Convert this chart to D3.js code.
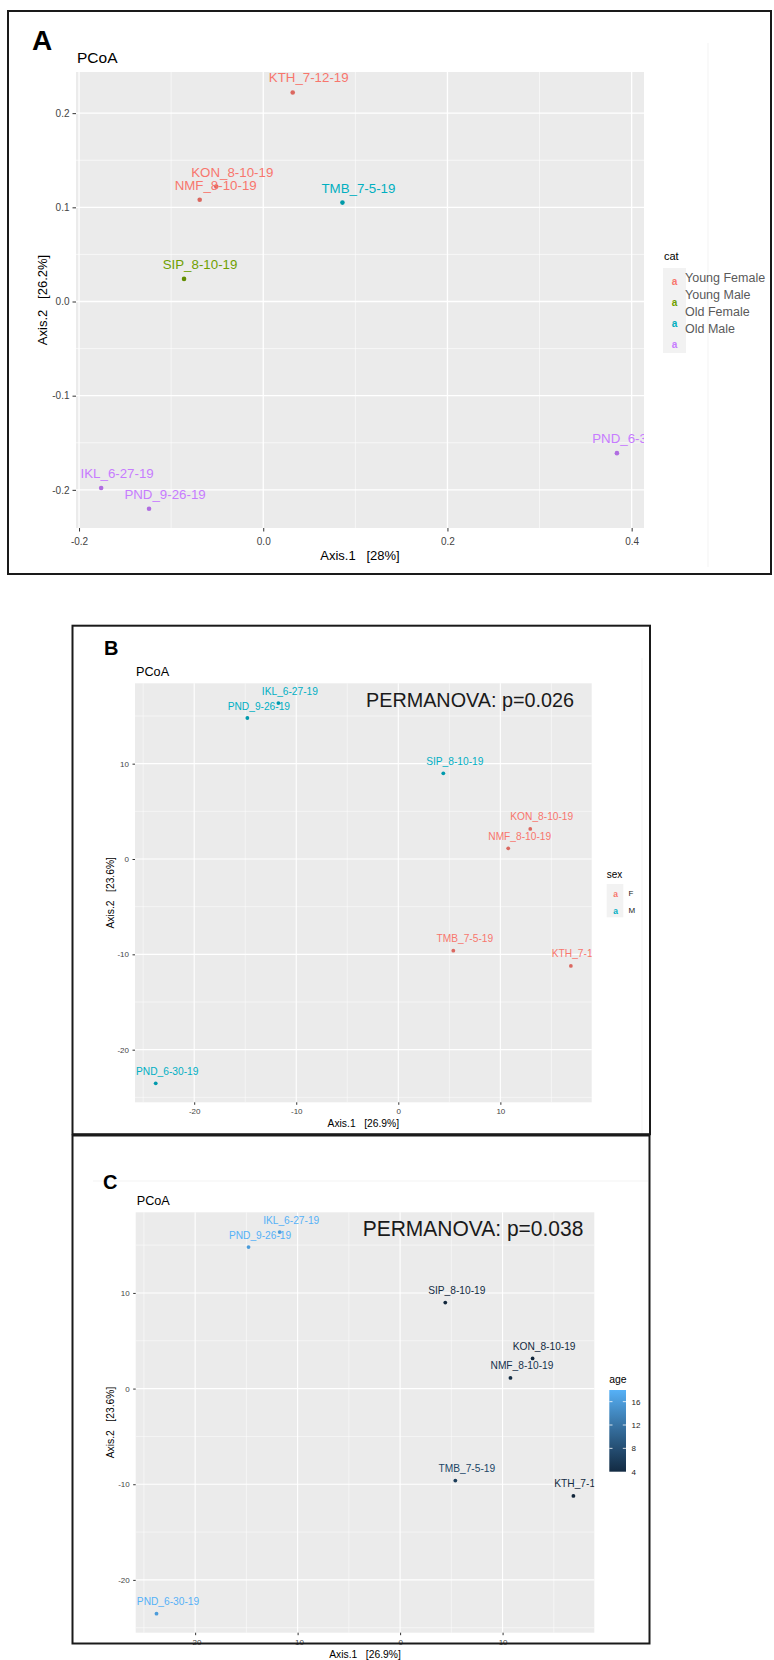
<!DOCTYPE html>
<html>
<head>
<meta charset="utf-8">
<script src="https://cdn.jsdelivr.net/npm/d3@7"></script>
<style>
body{margin:0;background:#fff}
text{font-family:"Liberation Sans",Arial,sans-serif}
</style>
</head>
<body>
<script>
// ---- panel A : PCoA coloured by cat ----
var samplesA = ["KTH_7-12-19","KON_8-10-19","NMF_8-10-19","TMB_7-5-19","SIP_8-10-19","IKL_6-27-19","PND_9-26-19","PND_6-30-19"];
var axis1A = [0.032,-0.051,-0.069,0.086,-0.086,-0.176,-0.124,0.384];
var axis2A = [0.222,0.122,0.108,0.105,0.024,-0.198,-0.220,-0.161];
var catA = ["Young Female","Young Female","Young Female","Old Female","Young Male","Old Male","Old Male","Old Male"];
var catLevels = ["Young Female","Young Male","Old Female","Old Male"];
var catColors = ["#F8766D","#6FA000","#00AFC0","#C77CFF"];
var xTicksA = [-0.2,0,0.2,0.4], xMinorA = [-0.1,0.1,0.3];
var yTicksA = [-0.2,-0.1,0,0.1,0.2], yMinorA = [-0.15,-0.05,0.05,0.15];

// ---- panels B and C : same ordination, by sex and by age ----
var samplesB = ["IKL_6-27-19","PND_9-26-19","SIP_8-10-19","KON_8-10-19","NMF_8-10-19","TMB_7-5-19","KTH_7-12-19","PND_6-30-19"];
var axis1B = [-11.75,-14.79,4.41,12.93,10.77,5.39,16.91,-23.77];
var axis2B = [16.36,14.79,8.99,3.15,1.12,-9.62,-11.22,-23.53];
var sexB = ["M","M","M","F","F","F","F","M"];
var sexLevels = ["F","M"];
var sexColors = ["#F8766D","#00AFC4"];
var ageB = [18,18,4,4,5,7,4,18];
var ageTicks = [4,8,12,16];
var ageColors = ["#132B43","#56B1F7"];
var ticksB = [-20,-10,0,10], minorB = [-25,-15,-5,5,15];

var svg = d3.select("body").append("svg")
  .attr("width", 774)
  .attr("height", 1660);

var catColor = d3.scaleOrdinal().domain(catLevels).range(catColors);
var sexColor = d3.scaleOrdinal().domain(sexLevels).range(sexColors);
var ageColor = d3.scaleLinear().domain(d3.extent(ageB)).range(ageColors).interpolate(d3.interpolateLab);

function panel(c) {
  var g = svg.append("g");
  var x = d3.scaleLinear().domain(c.xDom).range([c.l, c.r]);
  var y = d3.scaleLinear().domain(c.yDom).range([c.b, c.t]);

  g.append("rect")
    .attr("x", c.l).attr("y", c.t)
    .attr("width", c.r - c.l).attr("height", c.b - c.t)
    .attr("fill", "#EBEBEB");

  // grid lines, minor first
  g.selectAll(".vmin").data(c.xMinor).enter().append("line")
    .attr("x1", d => x(d)).attr("x2", d => x(d)).attr("y1", c.t).attr("y2", c.b)
    .attr("stroke", "#fff").attr("stroke-width", c.minW);
  g.selectAll(".hmin").data(c.yMinor).enter().append("line")
    .attr("y1", d => y(d)).attr("y2", d => y(d)).attr("x1", c.l).attr("x2", c.r)
    .attr("stroke", "#fff").attr("stroke-width", c.minW);
  g.selectAll(".vmaj").data(c.xTicks).enter().append("line")
    .attr("x1", d => x(d)).attr("x2", d => x(d)).attr("y1", c.t).attr("y2", c.b)
    .attr("stroke", "#fff").attr("stroke-width", c.majW);
  g.selectAll(".hmaj").data(c.yTicks).enter().append("line")
    .attr("y1", d => y(d)).attr("y2", d => y(d)).attr("x1", c.l).attr("x2", c.r)
    .attr("stroke", "#fff").attr("stroke-width", c.majW);

  // axes
  var xa = d3.axisBottom(x).tickValues(c.xTicks).tickFormat(c.fmt)
    .tickSize(c.tick).tickPadding(c.xPad);
  var gx = g.append("g").attr("transform", "translate(0," + c.b + ")").call(xa);
  var ya = d3.axisLeft(y).tickValues(c.yTicks).tickFormat(c.fmt)
    .tickSize(c.tick).tickPadding(c.yPad);
  var gy = g.append("g").attr("transform", "translate(" + c.l + ",0)").call(ya);
  [gx, gy].forEach(function(a) {
    a.select(".domain").remove();
    a.attr("font-size", c.tickFs).attr("font-family", "Liberation Sans, Arial, sans-serif");
    a.selectAll("line").attr("stroke", "#333");
    a.selectAll("text").attr("fill", "#444");
  });

  // axis titles
  g.append("text")
    .attr("x", (c.l + c.r) / 2).attr("y", c.xTitleY)
    .attr("text-anchor", "middle")
    .attr("font-size", c.titleFs)
    .style("white-space", "pre")
    .text(c.xTitle);
  g.append("text")
    .attr("transform", "translate(" + c.yTitleX + "," + ((c.t + c.b) / 2) + ") rotate(-90)")
    .attr("text-anchor", "middle")
    .attr("font-size", c.titleFs)
    .style("white-space", "pre")
    .text(c.yTitle);

  // PCoA title
  g.append("text")
    .attr("x", c.l + 1).attr("y", c.pcoaY)
    .attr("font-size", c.pcoaFs)
    .text("PCoA");

  // points and labels, clipped to the panel like ggplot
  svg.append("clipPath").attr("id", "clip" + c.name)
    .append("rect")
    .attr("x", c.l).attr("y", c.t)
    .attr("width", c.r - c.l).attr("height", c.b - c.t);
  var pts = g.append("g").attr("clip-path", "url(#clip" + c.name + ")");

  pts.selectAll("circle").data(c.data).enter().append("circle")
    .attr("cx", d => x(d.a1))
    .attr("cy", d => y(d.a2))
    .attr("r", c.r0)
    .attr("fill", d => d3.color(d.col).darker(0.35));

  pts.selectAll(".lab").data(c.data).enter().append("text")
    .attr("x", d => x(d.a1) + c.dx)
    .attr("y", d => y(d.a2) + c.dy)
    .attr("text-anchor", "middle")
    .attr("font-size", c.labFs)
    .attr("fill", d => d.col)
    .text(d => d.name);

  return g;
}

// faint artefacts from the pasted figure
svg.append("line").attr("x1", 708).attr("x2", 708).attr("y1", 43).attr("y2", 567)
  .attr("stroke", "#f3f3f3").attr("stroke-width", 1);
svg.append("line").attr("x1", 642).attr("x2", 642).attr("y1", 658).attr("y2", 1133)
  .attr("stroke", "#f3f3f3").attr("stroke-width", 1);
svg.append("line").attr("x1", 93).attr("x2", 648).attr("y1", 1181).attr("y2", 1181)
  .attr("stroke", "#f3f3f3").attr("stroke-width", 1);

// ===== Panel A =====
var dataA = samplesA.map(function(s, i) {
  return {name: s, a1: axis1A[i], a2: axis2A[i], col: catColor(catA[i])};
});

panel({
  name: "A", l: 76, r: 644, t: 72, b: 528,
  xDom: [-0.2033, 0.4134], yDom: [-0.2405, 0.2437],
  xTicks: xTicksA, xMinor: xMinorA, yTicks: yTicksA, yMinor: yMinorA,
  fmt: d => d.toFixed(1),
  majW: 1.3, minW: 0.6, tick: 3.5, xPad: 6, yPad: 3, tickFs: 10,
  xTitle: "Axis.1   [28%]", yTitle: "Axis.2   [26.2%]", titleFs: 13,
  xTitleY: 559.5, yTitleX: 46.5,
  pcoaY: 63, pcoaFs: 15.5,
  data: dataA, r0: 2.3, dx: 16, dy: -10, labFs: 13.3
});

svg.append("text").attr("x", 32).attr("y", 50)
  .attr("font-size", 28).attr("font-weight", "bold").text("A");

// legend A
var legA = svg.append("g");
legA.append("text").attr("x", 664).attr("y", 260).attr("font-size", 11).text("cat");
legA.append("rect").attr("x", 663).attr("y", 268).attr("width", 23).attr("height", 85).attr("fill", "#F2F2F2");
legA.selectAll(".k").data(catLevels).enter().append("text")
  .attr("x", 674.5)
  .attr("y", (d, i) => 284.5 + i * 21)
  .attr("text-anchor", "middle")
  .attr("font-size", 10).attr("font-weight", "bold")
  .attr("fill", d => catColor(d))
  .text("a");
legA.selectAll(".t").data(catLevels).enter().append("text")
  .attr("x", 685)
  .attr("y", (d, i) => 281.7 + i * 17)
  .attr("font-family", "Lato, 'Open Sans', sans-serif")
  .attr("font-size", 12.5)
  .attr("fill", "#5a5a5a")
  .text(d => d);

// ===== Panel B =====
var dataB = samplesB.map(function(s, i) {
  return {name: s, a1: axis1B[i], a2: axis2B[i], col: sexColor(sexB[i])};
});
var domB = {x: [-25.8, 18.95], y: [-25.52, 18.43]};

panel({
  name: "B", l: 135, r: 591.7, t: 683.3, b: 1102.3,
  xDom: domB.x, yDom: domB.y,
  xTicks: ticksB, xMinor: minorB, yTicks: ticksB, yMinor: minorB,
  fmt: d => String(d),
  majW: 1.1, minW: 0.5, tick: 2.5, xPad: 4, yPad: 3.5, tickFs: 8,
  xTitle: "Axis.1   [26.9%]", yTitle: "Axis.2   [23.6%]", titleFs: 10.3,
  xTitleY: 1126.7, yTitleX: 113.5,
  pcoaY: 676, pcoaFs: 12.7,
  data: dataB, r0: 1.9, dx: 11.5, dy: -8.5, labFs: 10.2
});

svg.append("text").attr("x", 104).attr("y", 654.5)
  .attr("font-size", 20).attr("font-weight", "bold").text("B");
svg.append("text").attr("x", 366).attr("y", 706.7)
  .attr("font-family", "Lato, 'Open Sans', sans-serif")
  .attr("font-size", 21).attr("fill", "#1a1a1a")
  .attr("textLength", 208).attr("lengthAdjust", "spacingAndGlyphs")
  .text("PERMANOVA: p=0.026");

// legend B
var legB = svg.append("g");
legB.append("text").attr("x", 606.7).attr("y", 878.3).attr("font-size", 10).text("sex");
legB.append("rect").attr("x", 606.7).attr("y", 884).attr("width", 16.6).attr("height", 33.3).attr("fill", "#F2F2F2");
legB.selectAll(".k").data(sexLevels).enter().append("text")
  .attr("x", 615.5)
  .attr("y", (d, i) => 897.3 + i * 16.4)
  .attr("text-anchor", "middle")
  .attr("font-size", 8.5).attr("font-weight", "bold")
  .attr("fill", d => sexColor(d))
  .text("a");
legB.selectAll(".t").data(sexLevels).enter().append("text")
  .attr("x", 628.5)
  .attr("y", (d, i) => 896.3 + i * 16.4)
  .attr("font-size", 8).attr("fill", "#222")
  .text(d => d);

// ===== Panel C =====
var dataC = samplesB.map(function(s, i) {
  return {name: s, a1: axis1B[i], a2: axis2B[i], col: ageColor(ageB[i])};
});

panel({
  name: "C", l: 135.7, r: 594.3, t: 1212.3, b: 1632.7,
  xDom: domB.x, yDom: domB.y,
  xTicks: ticksB, xMinor: minorB, yTicks: ticksB, yMinor: minorB,
  fmt: d => String(d),
  majW: 1.1, minW: 0.5, tick: 2.5, xPad: 4, yPad: 3.5, tickFs: 8,
  xTitle: "Axis.1   [26.9%]", yTitle: "Axis.2   [23.6%]", titleFs: 10.3,
  xTitleY: 1657.5, yTitleX: 114,
  pcoaY: 1205, pcoaFs: 12.7,
  data: dataC, r0: 1.9, dx: 11.5, dy: -8.5, labFs: 10.2
});

svg.append("text").attr("x", 103).attr("y", 1188.5)
  .attr("font-family", "Lato, 'Open Sans', sans-serif")
  .attr("font-size", 20).attr("font-weight", "bold").text("C");
svg.append("text").attr("x", 362.7).attr("y", 1236)
  .attr("font-family", "Lato, 'Open Sans', sans-serif")
  .attr("font-size", 22).attr("fill", "#1a1a1a")
  .attr("textLength", 220.7).attr("lengthAdjust", "spacingAndGlyphs")
  .text("PERMANOVA: p=0.038");

// legend C: colour bar
var legC = svg.append("g");
legC.append("text").attr("x", 609.3).attr("y", 1383.3).attr("font-size", 10.4).text("age");
var grad = svg.append("defs").append("linearGradient")
  .attr("id", "ageGrad").attr("x1", 0).attr("x2", 0).attr("y1", 1).attr("y2", 0);
d3.range(0, 1.0001, 0.1).forEach(function(t) {
  var v = ageColor.domain()[0] + t * (ageColor.domain()[1] - ageColor.domain()[0]);
  grad.append("stop").attr("offset", t).attr("stop-color", ageColor(v));
});
var barY = d3.scaleLinear().domain(ageColor.domain()).range([1471.7, 1390]);
legC.append("rect").attr("x", 609.3).attr("y", 1390).attr("width", 16.7).attr("height", 81.7)
  .attr("fill", "url(#ageGrad)");
legC.selectAll(".tk").data(ageTicks.slice(1)).enter().append("g")
  .each(function(d) {
    var gg = d3.select(this);
    gg.append("line").attr("x1", 609.3).attr("x2", 612.5).attr("y1", barY(d)).attr("y2", barY(d))
      .attr("stroke", "#fff").attr("stroke-width", 0.8);
    gg.append("line").attr("x1", 622.8).attr("x2", 626).attr("y1", barY(d)).attr("y2", barY(d))
      .attr("stroke", "#fff").attr("stroke-width", 0.8);
  });
legC.selectAll(".tl").data(ageTicks).enter().append("text")
  .attr("x", 631.5)
  .attr("y", d => barY(d) + 3)
  .attr("font-size", 8).attr("fill", "#222")
  .text(d => d);

// ===== frames =====
svg.append("rect").attr("x", 8).attr("y", 11).attr("width", 763).attr("height", 563)
  .attr("fill", "none").attr("stroke", "#1a1a1a").attr("stroke-width", 2);
svg.append("rect").attr("x", 72.5).attr("y", 625.7).attr("width", 577.5).attr("height", 508.5)
  .attr("fill", "none").attr("stroke", "#1a1a1a").attr("stroke-width", 2);
svg.append("rect").attr("x", 72.5).attr("y", 1135.5).attr("width", 577).attr("height", 508)
  .attr("fill", "none").attr("stroke", "#1a1a1a").attr("stroke-width", 2);
</script>
</body>
</html>
